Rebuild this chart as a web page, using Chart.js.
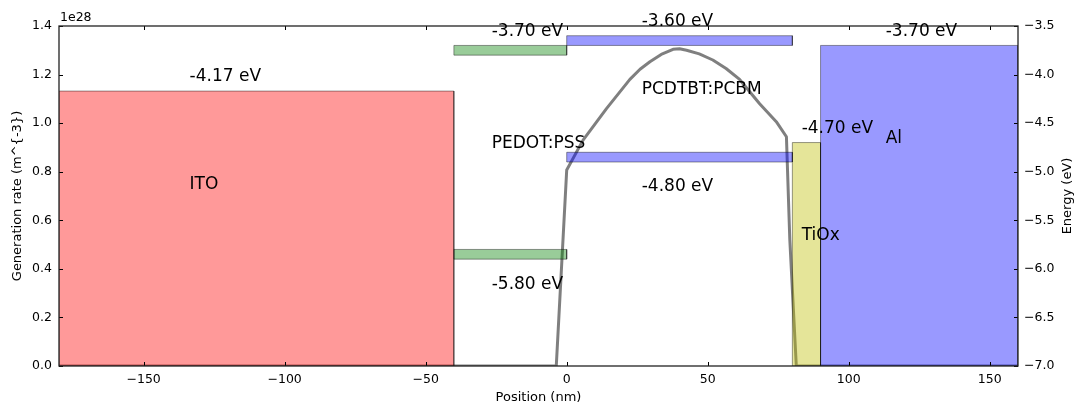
<!DOCTYPE html>
<html>
<head>
<meta charset="utf-8">
<script src="https://cdn.jsdelivr.net/npm/chart.js@4/dist/chart.umd.min.js"></script>
<style>
  html, body { margin: 0; padding: 0; background: #fff; }
  #wrap { width: 1078px; height: 409px; }
</style>
</head>
<body>
<div id="wrap"><canvas id="chart"></canvas></div>
<script>
// generation rate profile (units of 1e28 m^-3) vs position (nm)
const positions  = [-180, -3.7, 0, 5.8, 14.1, 22.4, 26.0, 29.5, 33.5, 37.7, 40.0, 42.5, 47.0, 51.8, 56.5, 61.3, 68.4, 74.3, 77.9, 79.1, 81.4, 160];
const generation = [0, 0, 0.807, 0.93, 1.06, 1.18, 1.222, 1.253, 1.283, 1.304, 1.306, 1.30, 1.285, 1.26, 1.225, 1.18, 1.08, 1.006, 0.944, 0.52, 0, 0];

// energy levels (eV) of each layer
const layerNames  = ['ITO', 'PEDOT:PSS', 'PEDOT:PSS', 'PCDTBT:PCBM', 'PCDTBT:PCBM', 'TiOx', 'Al'];
const layerStart  = [-180, -40, -40, 0, 0, 80, 90];
const layerEnd    = [-40, 0, 0, 80, 80, 90, 160];
const levelTop    = [-4.17, -3.70, -5.80, -3.60, -4.80, -4.70, -3.70];
const levelBottom = [-7.0, -3.80, -5.90, -3.70, -4.90, -7.0, -7.0];
const layerColors = ['rgba(255,0,0,0.4)', 'rgba(0,128,0,0.4)', 'rgba(0,128,0,0.4)',
                     'rgba(0,0,255,0.4)', 'rgba(0,0,255,0.4)', 'rgba(191,191,0,0.4)', 'rgba(0,0,255,0.4)'];

// text labels: [text, x (nm), energy (eV)]
const labelText = ['-4.17 eV', 'ITO', '-3.70 eV', 'PEDOT:PSS', '-5.80 eV', '-3.60 eV',
                   'PCDTBT:PCBM', '-4.80 eV', '-4.70 eV', 'TiOx', '-3.70 eV', 'Al'];
const labelX = [-133.7, -133.7, -26.6, -26.6, -26.6, 26.6, 26.6, 26.6, 83.3, 83.3, 113.1, 113.1];
const labelY = [-4.004, -5.116, -3.541, -4.694, -6.146, -3.438, -4.138, -5.137, -4.540, -5.641, -3.541, -4.643];

const xTicks = [-150, -100, -50, 0, 50, 100, 150];
const genTicks = [0, 0.2, 0.4, 0.6, 0.8, 1.0, 1.2, 1.4];
const energyTicks = [-7.0, -6.5, -6.0, -5.5, -5.0, -4.5, -4.0, -3.5];

const FONT = 'DejaVu Sans';
const minus = s => s.replace('-', '\u2212');

const datasets = [];
for (let i = 0; i < layerNames.length; i++) {
  const x0 = layerStart[i], x1 = layerEnd[i], y0 = levelBottom[i], y1 = levelTop[i];
  datasets.push({
    label: layerNames[i],
    yAxisID: 'y2',
    data: [{x: x0, y: y0}, {x: x0, y: y1}, {x: x1, y: y1}, {x: x1, y: y0}, {x: x0, y: y0}],
    backgroundColor: layerColors[i],
    borderColor: 'rgba(0,0,0,0.4)',
    borderWidth: 1,
    fill: 'shape',
    pointRadius: 0,
    tension: 0
  });
}
datasets.push({
  label: 'Generation rate',
  yAxisID: 'y',
  data: positions.map((x, i) => ({x: x, y: generation[i]})),
  borderColor: 'rgba(0,0,0,0.5)',
  borderWidth: 3,
  borderJoinStyle: 'round',
  fill: false,
  pointRadius: 0,
  tension: 0
});

const decor = {
  id: 'decor',
  afterDatasetsDraw(chart) {
    const ctx = chart.ctx, a = chart.chartArea, s = chart.scales;
    ctx.save();
    // inward ticks
    ctx.strokeStyle = '#000';
    ctx.lineWidth = 1;
    ctx.beginPath();
    xTicks.forEach(v => {
      const px = Math.round(s.x.getPixelForValue(v)) + 0.5;
      ctx.moveTo(px, a.bottom); ctx.lineTo(px, a.bottom - 4);
      ctx.moveTo(px, a.top); ctx.lineTo(px, a.top + 4);
    });
    genTicks.forEach(v => {
      const py = Math.round(s.y.getPixelForValue(v)) + 0.5;
      ctx.moveTo(a.left, py); ctx.lineTo(a.left + 4, py);
    });
    energyTicks.forEach(v => {
      const py = Math.round(s.y2.getPixelForValue(v)) + 0.5;
      ctx.moveTo(a.right, py); ctx.lineTo(a.right - 4, py);
    });
    ctx.stroke();
    // frame
    ctx.lineWidth = 1.3;
    ctx.strokeStyle = '#222';
    ctx.strokeRect(a.left, a.top, a.right - a.left, a.bottom - a.top);
    // layer labels
    ctx.fillStyle = '#000';
    ctx.font = '17px "' + FONT + '"';
    ctx.textAlign = 'left';
    ctx.textBaseline = 'alphabetic';
    labelText.forEach((t, i) => {
      ctx.fillText(t, s.x.getPixelForValue(labelX[i]), s.y2.getPixelForValue(labelY[i]) + 6);
    });
    // axis titles
    ctx.font = '13px "' + FONT + '"';
    ctx.textAlign = 'center';
    ctx.textBaseline = 'middle';
    ctx.fillText('Position (nm)', (a.left + a.right) / 2, 398);
    ctx.save();
    ctx.translate(18, (a.top + a.bottom) / 2);
    ctx.rotate(-Math.PI / 2);
    ctx.fillText('Generation rate (m^{-3})', 0, 0);
    ctx.restore();
    ctx.save();
    ctx.translate(1068, (a.top + a.bottom) / 2);
    ctx.rotate(-Math.PI / 2);
    ctx.fillText('Energy (eV)', 0, 0);
    ctx.restore();
    ctx.font = '12.5px "' + FONT + '"';
    ctx.textAlign = 'left';
    ctx.textBaseline = 'alphabetic';
    ctx.fillText('1e28', a.left + 1, a.top - 5);
    ctx.restore();
  }
};

new Chart(document.getElementById('chart'), {
  type: 'line',
  data: { datasets: datasets },
  options: {
    responsive: true,
    maintainAspectRatio: false,
    animation: false,
    events: [],
    layout: { padding: { top: 26, left: 0, right: 0, bottom: 0 } },
    plugins: { legend: { display: false }, tooltip: { enabled: false } },
    scales: {
      x: {
        type: 'linear', min: -180, max: 160,
        afterBuildTicks: sc => { sc.ticks = xTicks.map(v => ({value: v})); },
        afterFit: sc => { sc.height = 43; },
        grid: { display: false, drawTicks: false },
        border: { display: false },
        ticks: { padding: 6, color: '#000', font: { family: FONT, size: 12.5 }, maxRotation: 0,
                 callback: v => minus(String(v)) }
      },
      y: {
        type: 'linear', position: 'left', min: 0, max: 1.4,
        afterBuildTicks: sc => { sc.ticks = genTicks.map(v => ({value: v})); },
        afterFit: sc => { sc.width = 59; },
        grid: { display: false, drawTicks: false },
        border: { display: false },
        ticks: { padding: 7, color: '#000', font: { family: FONT, size: 12.5 },
                 callback: v => v.toFixed(1) }
      },
      y2: {
        type: 'linear', position: 'right', min: -7.0, max: -3.5,
        afterBuildTicks: sc => { sc.ticks = energyTicks.map(v => ({value: v})); },
        afterFit: sc => { sc.width = 60; },
        grid: { display: false, drawTicks: false },
        border: { display: false },
        ticks: { padding: 6, color: '#000', font: { family: FONT, size: 12.5 },
                 callback: v => minus(v.toFixed(1)) }
      }
    }
  },
  plugins: [decor]
});
</script>
</body>
</html>
